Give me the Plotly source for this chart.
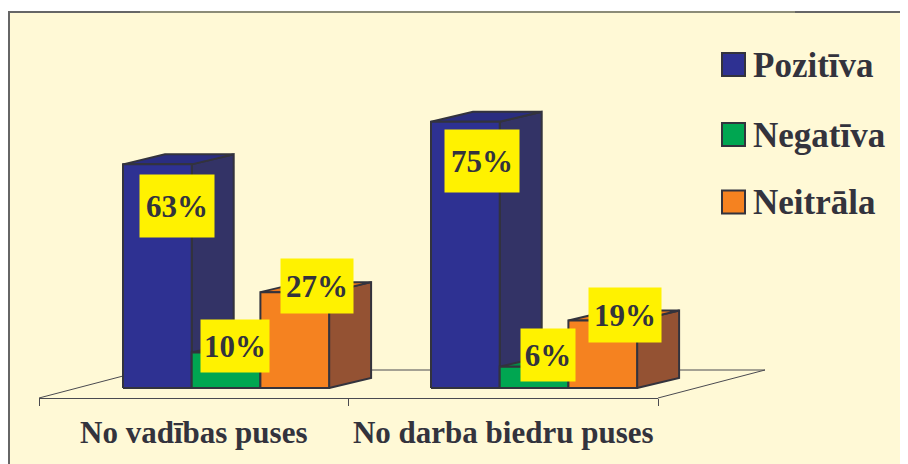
import plotly.graph_objects as go

# values (percent)
groups = ["No vadības puses", "No darba biedru puses"]
series_names = ["Pozitīva", "Negatīva", "Neitrāla"]
pozitiva = [63, 75]
negativa = [10, 6]
neitrala = [27, 19]

front_colors = ["#2E3192", "#00A651", "#F58220"]
side_colors = ["#333366", "#00703C", "#945233"]
top_colors = ["#2A2D80", "#008F48", "#E8771C"]
edge = "#33333D"
text_color = "#33333D"
FONT = "Liberation Serif"

# the page body has an 8px margin, so the figure starts at page pixel (8, 8)
PAGE_W, PAGE_H = 908, 464
OFF = 8
W, H = PAGE_W - OFF, PAGE_H - OFF
PX_PER_PCT = 3.55
PX_PER_GROUP = 308
ZERO_Y = 388
GROUP0_X = 123
BAR_W = 68.7 / PX_PER_GROUP
DEPTH_X = 42 / PX_PER_GROUP
DEPTH_Y = 10 / PX_PER_PCT


def gx(px):
    return (px - GROUP0_X) / PX_PER_GROUP


def paper_x(px):
    return (px - OFF) / W


def paper_y(py):
    return 1 - (py - OFF) / H


fig = go.Figure()


def face(xs, ys, color):
    fig.add_trace(
        go.Scatter(
            x=xs + xs[:1],
            y=ys + ys[:1],
            mode="lines",
            fill="toself",
            fillcolor=color,
            line=dict(color=edge, width=2),
            xaxis="x2",
            yaxis="y2",
            showlegend=False,
            hoverinfo="skip",
        )
    )


# axis line with ticks, carried by the categorical axis
fig.add_trace(go.Scatter(x=groups, y=[0, 0], mode="markers", marker=dict(opacity=0), showlegend=False, hoverinfo="skip"))

# floor lines
floor_y0 = -10 / PX_PER_PCT
floor_y1 = 18 / PX_PER_PCT
fig.add_trace(
    go.Scatter(
        x=[gx(39), gx(146), gx(765), gx(658)],
        y=[floor_y0, floor_y1, floor_y1, floor_y0],
        mode="lines",
        line=dict(color="#4A4A50", width=1),
        xaxis="x2",
        yaxis="y2",
        showlegend=False,
        hoverinfo="skip",
    )
)

values = [pozitiva, negativa, neitrala]
for g in range(len(groups)):
    for s in range(len(series_names)):
        v = values[s][g]
        x0 = g + s * BAR_W
        x1 = x0 + BAR_W
        # side, top, front
        face([x1, x1 + DEPTH_X, x1 + DEPTH_X, x1], [0, DEPTH_Y, v + DEPTH_Y, v], side_colors[s])
        face([x0, x0 + DEPTH_X, x1 + DEPTH_X, x1], [v, v + DEPTH_Y, v + DEPTH_Y, v], top_colors[s])
        face([x0, x1, x1, x0], [0, 0, v, v], front_colors[s])

# yellow value labels: centre x, rise above the bar top, box size (pixels)
label_boxes = {
    (0, 0): (177, -42, 72, 60),
    (0, 1): (235, 7, 66, 50),
    (0, 2): (317, 6, 70, 52),
    (1, 0): (482, -39, 72, 60),
    (1, 1): (548, 12, 52, 50),
    (1, 2): (625, 6, 70, 52),
}
for (g, s), (cx, rise, bw, bh) in label_boxes.items():
    v = values[s][g]
    fig.add_annotation(
        x=gx(cx),
        y=v + rise / PX_PER_PCT,
        xref="x2",
        yref="y2",
        text=f"<b>{v}%</b>",
        showarrow=False,
        bgcolor="#FFF200",
        width=bw,
        height=bh,
        font=dict(family=FONT, size=31, color=text_color),
    )

# legend
legend_y = [64.5, 134.5, 202]
for name, color, ly in zip(series_names, front_colors, legend_y):
    fig.add_shape(
        type="rect",
        xref="paper",
        yref="paper",
        x0=paper_x(722),
        x1=paper_x(745),
        y0=paper_y(ly + 11.5),
        y1=paper_y(ly - 11.5),
        fillcolor=color,
        line=dict(color=edge, width=2),
    )
    fig.add_annotation(
        x=paper_x(753),
        y=paper_y(ly + 1),
        xref="paper",
        yref="paper",
        xanchor="left",
        yanchor="middle",
        xshift=-2,
        text=f"<b>{name}</b>",
        showarrow=False,
        font=dict(family=FONT, size=35, color=text_color),
    )

# panel
fig.add_shape(
    type="rect",
    xref="paper",
    yref="paper",
    x0=paper_x(9),
    x1=1.02,
    y0=-0.02,
    y1=paper_y(12),
    fillcolor="#FFF9D6",
    line=dict(color="#666666", width=2),
    layer="below",
)
fig.add_shape(
    type="line",
    xref="paper",
    yref="paper",
    x0=paper_x(140),
    x1=paper_x(795),
    y0=paper_y(12),
    y1=paper_y(12),
    line=dict(color="#8C8C78", width=2),
    layer="below",
)

fig.update_layout(
    width=W,
    height=H,
    margin=dict(l=0, r=0, t=0, b=0),
    paper_bgcolor="white",
    plot_bgcolor="rgba(0,0,0,0)",
    showlegend=False,
    font=dict(family=FONT, color=text_color),
    xaxis=dict(
        domain=[paper_x(39), paper_x(658)],
        type="category",
        categoryorder="array",
        categoryarray=groups,
        range=[-0.5, 1.5],
        tickson="boundaries",
        ticks="outside",
        ticklen=7,
        tickcolor="#4A4A50",
        showline=True,
        linecolor="#4A4A50",
        showgrid=False,
        tickfont=dict(family=FONT, size=31, color=text_color),
        ticklabelstandoff=7,
        tickprefix="<b>",
        ticksuffix="</b>",
        anchor="y",
        tickangle=0,
    ),
    yaxis=dict(domain=[paper_y(398), 1], visible=False, range=[0, 1]),
    xaxis2=dict(
        domain=[0, 1],
        range=[gx(OFF), gx(PAGE_W)],
        visible=False,
        anchor="y2",
    ),
    yaxis2=dict(
        domain=[0, 1],
        range=[-(PAGE_H - ZERO_Y) / PX_PER_PCT, (ZERO_Y - OFF) / PX_PER_PCT],
        visible=False,
        anchor="x2",
    ),
)

fig.write_html("out.html")
